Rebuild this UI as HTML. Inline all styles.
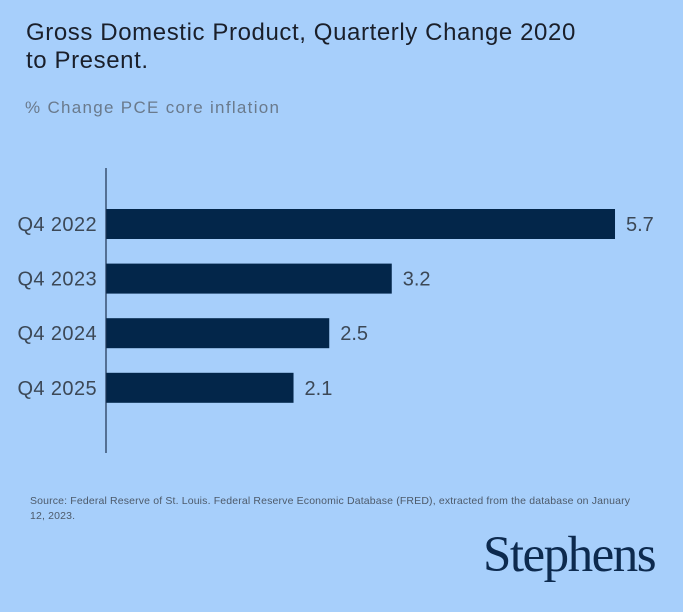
<!DOCTYPE html>
<html><head><meta charset="utf-8"><style>
body{margin:0;width:683px;height:612px;background:#a7cffb;overflow:hidden;font-family:"Liberation Sans",sans-serif;position:relative}
.t{position:absolute}
</style></head><body>
<div class="t" style="left:26px;top:19px;font-size:24px;line-height:28px;color:#1a1f2a;letter-spacing:0.6px;white-space:nowrap">Gross Domestic Product, Quarterly Change 2020<br>to Present.</div>
<div class="t" style="left:25px;top:98px;font-size:17px;color:#6a7a8c;letter-spacing:1.3px">% Change PCE core inflation</div>
<svg class="t" style="left:0;top:0" width="683" height="612" id="chart"></svg>
<div class="t" style="left:30px;top:494px;width:612px;font-size:10.5px;line-height:15px;color:#4d5a6a;letter-spacing:0.15px">Source: Federal Reserve of St. Louis. Federal Reserve Economic Database (FRED), extracted from the database on January 12, 2023.</div>
<div class="t" style="left:483px;top:526px;font-family:'Liberation Serif',serif;font-size:51px;color:#0d2a4e;letter-spacing:-1.5px">Stephens</div>
<script>
const categories=["Q4 2022","Q4 2023","Q4 2024","Q4 2025"];
const values=[5.7,3.2,2.5,2.1];
const valueLabels=["5.7","3.2","2.5","2.1"];
const svg=document.getElementById('chart');
const NS='http://www.w3.org/2000/svg';
const x0=106,pxPerUnit=89.3,y0=209,pitch=54.6,bh=30;
const xs=v=>x0+v*pxPerUnit;
const ys=i=>y0+i*pitch;
categories.forEach((c,i)=>{
  const r=document.createElementNS(NS,'rect');
  r.setAttribute('x',x0);r.setAttribute('y',ys(i));
  r.setAttribute('width',xs(values[i])-x0);r.setAttribute('height',bh);
  r.setAttribute('fill','#03264a');
  
  
  svg.appendChild(r);
  const l=document.createElementNS(NS,'text');
  l.setAttribute('x',97);l.setAttribute('y',ys(i)+bh/2+7);
  l.setAttribute('text-anchor','end');l.setAttribute('font-size','20');
  l.setAttribute('fill','#3c4856');l.setAttribute('letter-spacing','0.4');
  l.textContent=c;
  
  
  svg.appendChild(l);
  const v=document.createElementNS(NS,'text');
  v.setAttribute('x',xs(values[i])+11);v.setAttribute('y',ys(i)+bh/2+7);
  v.setAttribute('font-size','20');v.setAttribute('fill','#3c4856');
  v.textContent=valueLabels[i];
  
  
  svg.appendChild(v);
});
const ax=document.createElementNS(NS,'line');
ax.setAttribute('x1',x0);ax.setAttribute('x2',x0);ax.setAttribute('y1',168);ax.setAttribute('y2',453);
ax.setAttribute('stroke','#1d3350');ax.setAttribute('stroke-width','1.2');


svg.appendChild(ax);
</script>
</body></html>
